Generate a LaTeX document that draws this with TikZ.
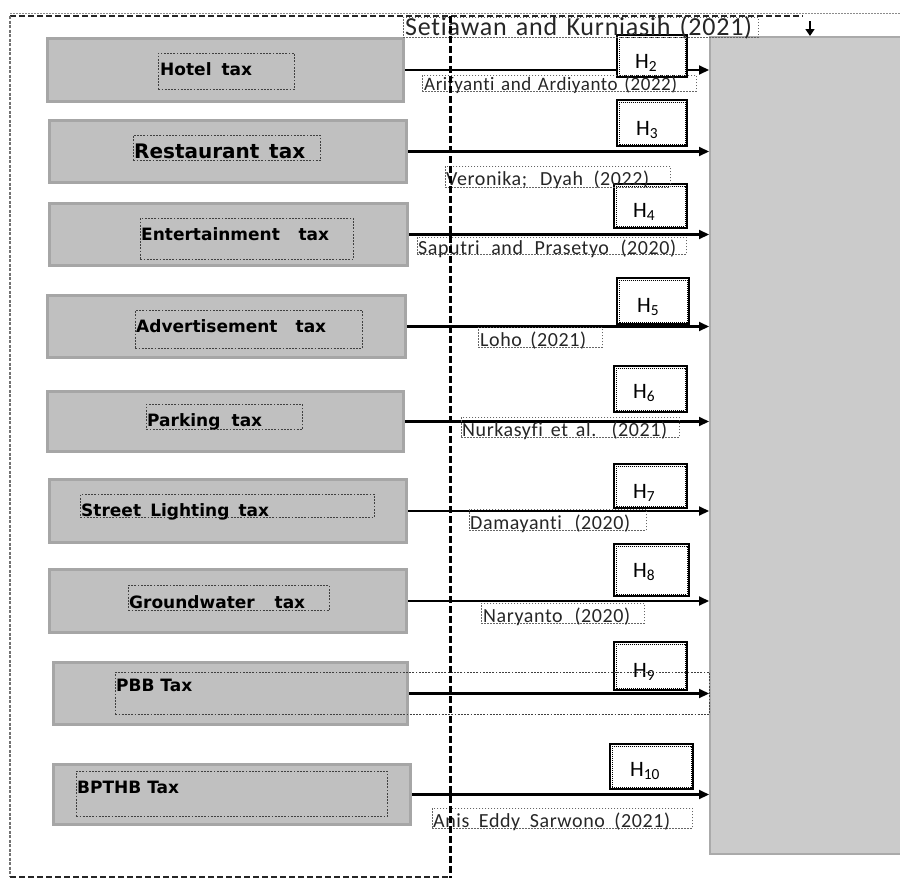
\documentclass[tikz,border=0pt]{standalone}
\usepackage{fontspec}
\newfontfamily\mycitefont{Carlito}[LetterSpace=3,Ligatures=NoCommon]
\newfontfamily\myhfont{Carlito}
\newfontfamily\mytaxfont{DejaVu Sans}
\usetikzlibrary{arrows.meta}
\definecolor{boxfill}{HTML}{C0C0C0}
\definecolor{boxedge}{HTML}{A6A6A6}
\definecolor{bigfill}{HTML}{CBCBCB}
\definecolor{bigedge}{HTML}{AAAAAA}
\tikzset{
 taxbox/.style={draw=boxedge, fill=boxfill, line width=3pt, inner sep=0pt},
 lblbox/.style={draw=black!75, line width=0.6pt, dash pattern=on 1.8pt off 1.4pt, inner sep=0pt, anchor=north west},
 citebox/.style={draw=black!60, line width=0.5pt, dash pattern=on 1.5pt off 1.5pt, inner sep=0pt, anchor=north west},
 taxtext/.style={font=\mytaxfont\bfseries\fontsize{17}{20}\selectfont, inner sep=0pt, anchor=base west},
 citetext/.style={font=\mycitefont\fontsize{20}{24}\selectfont, inner sep=0pt, anchor=base west, text=black!85},
 hbox/.style={draw=black, fill=white, line width=2pt, inner sep=0pt, anchor=north west},
 hinner/.style={draw=black, line width=0.5pt, dash pattern=on 1pt off 1pt},
 htext/.style={font=\myhfont\fontsize{22}{26}\selectfont, inner sep=0pt, anchor=base west},
 flow/.style={line width=2.1pt, -{Triangle[length=10pt,width=9pt]}},
 bigbox/.style={draw=bigedge, fill=bigfill, line width=1.5pt, inner sep=0pt, anchor=north west},
}
\begin{document}
\begin{tikzpicture}[x=1pt,y=-1pt]
\useasboundingbox (0,0) rectangle (900,878);
% thin top dotted line
\draw[black!45, line width=0.6pt, dash pattern=on 1.5pt off 1.5pt] (10,13) -- (900,13);
% big target box
\node[bigbox, minimum width=200pt, minimum height=817pt] (big) at (709,36) {};
% left tax boxes
\node[taxbox, minimum width=356pt, minimum height=63pt] (b1) at (225.5,70) {};
\node[taxbox, minimum width=357pt, minimum height=62pt] (b2) at (228,151.5) {};
\node[taxbox, minimum width=358pt, minimum height=62pt] (b3) at (228.5,234.5) {};
\node[taxbox, minimum width=358pt, minimum height=62pt] (b4) at (226.5,326.5) {};
\node[taxbox, minimum width=356pt, minimum height=60pt] (b5) at (225.5,421.5) {};
\node[taxbox, minimum width=357pt, minimum height=63pt] (b6) at (228,511) {};
\node[taxbox, minimum width=357pt, minimum height=63pt] (b7) at (228,601) {};
\node[taxbox, minimum width=354pt, minimum height=62pt] (b8) at (230.5,693.5) {};
\node[taxbox, minimum width=357pt, minimum height=60pt] (b9) at (232,794.5) {};
% label dotted boxes
\node[lblbox, minimum width=136pt, minimum height=36pt] (l1) at (158,53) {};
\node[lblbox, minimum width=187pt, minimum height=25pt] (l2) at (133,135) {};
\node[lblbox, minimum width=213pt, minimum height=41pt] (l3) at (140,218) {};
\node[lblbox, minimum width=227pt, minimum height=38pt] (l4) at (135,310) {};
\node[lblbox, minimum width=156pt, minimum height=25pt] (l5) at (146,404) {};
\node[lblbox, minimum width=294pt, minimum height=23pt] (l6) at (80,494) {};
\node[lblbox, minimum width=201pt, minimum height=25pt] (l7) at (128,585) {};
\node[lblbox, minimum width=311pt, minimum height=45pt] (l9) at (76,771) {};
% tax texts
\node[taxtext] (t1) at (160,75) {\makebox[92pt][s]{Hotel tax}};
\node[taxtext, font=\mytaxfont\bfseries\fontsize{20}{24}\selectfont] (t2) at (134,158) {\makebox[171pt][s]{Restaurant tax}};
\node[taxtext] (t3) at (141,240) {\makebox[188pt][s]{Entertainment tax}};
\node[taxtext] (t4) at (136,332) {\makebox[190pt][s]{Advertisement tax}};
\node[taxtext] (t5) at (147,426) {\makebox[115pt][s]{Parking tax}};
\node[taxtext] (t6) at (81,516) {\makebox[188pt][s]{Street Lighting tax}};
\node[taxtext] (t7) at (129,608) {\makebox[176pt][s]{Groundwater tax}};
\node[taxtext] (t8) at (116,691) {PBB Tax};
\node[taxtext] (t9) at (77,793) {BPTHB Tax};
% arrows
\foreach \b in {b1,b2,b3,b4,b5,b6,b7,b8,b9}
  \draw[flow] (\b.east) -- (\b.east -| big.west);
% hypothesis boxes
\node[hbox, minimum width=70pt, minimum height=42pt] (h2) at (616,34) {};
\node[hbox, minimum width=70pt, minimum height=46pt] (h3) at (616,99) {};
\node[hbox, minimum width=73pt, minimum height=44pt] (h4) at (613,183) {};
\node[hbox, minimum width=72pt, minimum height=46pt] (h5) at (616,277) {};
\node[hbox, minimum width=73pt, minimum height=46pt] (h6) at (613,365) {};
\node[hbox, minimum width=73pt, minimum height=44pt] (h7) at (613,463) {};
\node[hbox, minimum width=75pt, minimum height=52pt] (h8) at (613,543) {};
\node[hbox, minimum width=73pt, minimum height=48pt] (h9) at (613,641) {};
\node[hbox, minimum width=83pt, minimum height=45pt] (h10) at (609,743) {};
\foreach \h in {h2,h3,h4,h5,h6,h7,h8,h9,h10}
  \draw[hinner] ([shift={(2.8pt,-2.8pt)}]\h.north west) rectangle ([shift={(-2.8pt,2.8pt)}]\h.south east);
\node[htext] (ht2) at (635,68) {H\textsubscript{2}};
\node[htext] (ht3) at (636,135) {H\textsubscript{3}};
\node[htext] (ht4) at (633,217) {H\textsubscript{4}};
\node[htext] (ht5) at (637,312) {H\textsubscript{5}};
\node[htext] (ht6) at (633,398) {H\textsubscript{6}};
\node[htext] (ht7) at (633,498) {H\textsubscript{7}};
\node[htext] (ht8) at (633,577) {H\textsubscript{8}};
\node[htext] (ht9) at (633,677) {H\textsubscript{9}};
\node[htext] (ht10) at (630,776) {H\textsubscript{10}};
% PBB wide dotted box (crosses H9)
\node[lblbox, minimum width=594pt, minimum height=42pt] (l8) at (115,672) {};
% citation boxes
\node[citebox, minimum width=274pt, minimum height=16pt] (c2) at (422,75) {};
\node[citebox, minimum width=225pt, minimum height=21pt] (c3) at (445,166) {};
\node[citebox, minimum width=269pt, minimum height=17pt] (c4) at (417,237) {};
\node[citebox, minimum width=124pt, minimum height=20pt] (c5) at (478,327) {};
\node[citebox, minimum width=218pt, minimum height=20pt] (c6) at (461,417) {};
\node[citebox, minimum width=177pt, minimum height=21pt] (c7) at (469,509) {};
\node[citebox, minimum width=163pt, minimum height=20pt] (c8) at (481,603) {};
\node[citebox, minimum width=260pt, minimum height=20pt] (c10) at (432,808) {};
\node[citebox, minimum width=355pt, minimum height=20pt] (c1) at (403,17) {};
\node[citetext, font=\mycitefont\fontsize{19}{23}\selectfont] (ct2) at (424,90) {\makebox[253pt][s]{Arifyanti and Ardiyanto (2022)}};
\node[citetext] (ct3) at (446,185) {\makebox[203pt][s]{Veronika; Dyah (2022)}};
\node[citetext] (ct4) at (418,254) {\makebox[258pt][s]{Saputri and Prasetyo (2020)}};
\node[citetext] (ct5) at (480,346) {\makebox[106pt][s]{Loho (2021)}};
\node[citetext] (ct6) at (462,436) {\makebox[205pt][s]{Nurkasyfi et al. (2021)}};
\node[citetext] (ct7) at (470,529) {\makebox[160pt][s]{Damayanti (2020)}};
\node[citetext] (ct8) at (483,622) {\makebox[147pt][s]{Naryanto (2020)}};
\node[citetext] (ct10) at (433,827) {\makebox[237pt][s]{Anis Eddy Sarwono (2021)}};
\node[citetext, font=\mycitefont\fontsize{26}{31}\selectfont] (ct1) at (405,35) {\makebox[347pt][s]{Setiawan and Kurniasih (2021)}};
% frame
\coordinate (ftl) at (10,16);
\coordinate (ftr) at (803,16);
\coordinate (fbl) at (10,877);
\coordinate (fbr) at (450,877);
\coordinate (vtop) at (450,16);
\coordinate (vbot) at (450,878);
\draw[black!85, line width=1.5pt, dash pattern=on 6pt off 3pt] (ftl) -- (ftr);
\draw[black!55, line width=1.2pt, dash pattern=on 3pt off 1.5pt] (ftl) -- (fbl);
\draw[black!85, line width=2.2pt, dash pattern=on 6pt off 3pt] (fbl) -- (fbr);
\draw[black, line width=3pt, dash pattern=on 7pt off 3pt] (vtop) -- (vbot);
% small down arrow
\coordinate (topa) at (810,21);
\draw[line width=1.6pt, -{Triangle[length=7pt,width=9pt]}] (topa) -- (topa |- big.north);
\end{tikzpicture}
\end{document}
